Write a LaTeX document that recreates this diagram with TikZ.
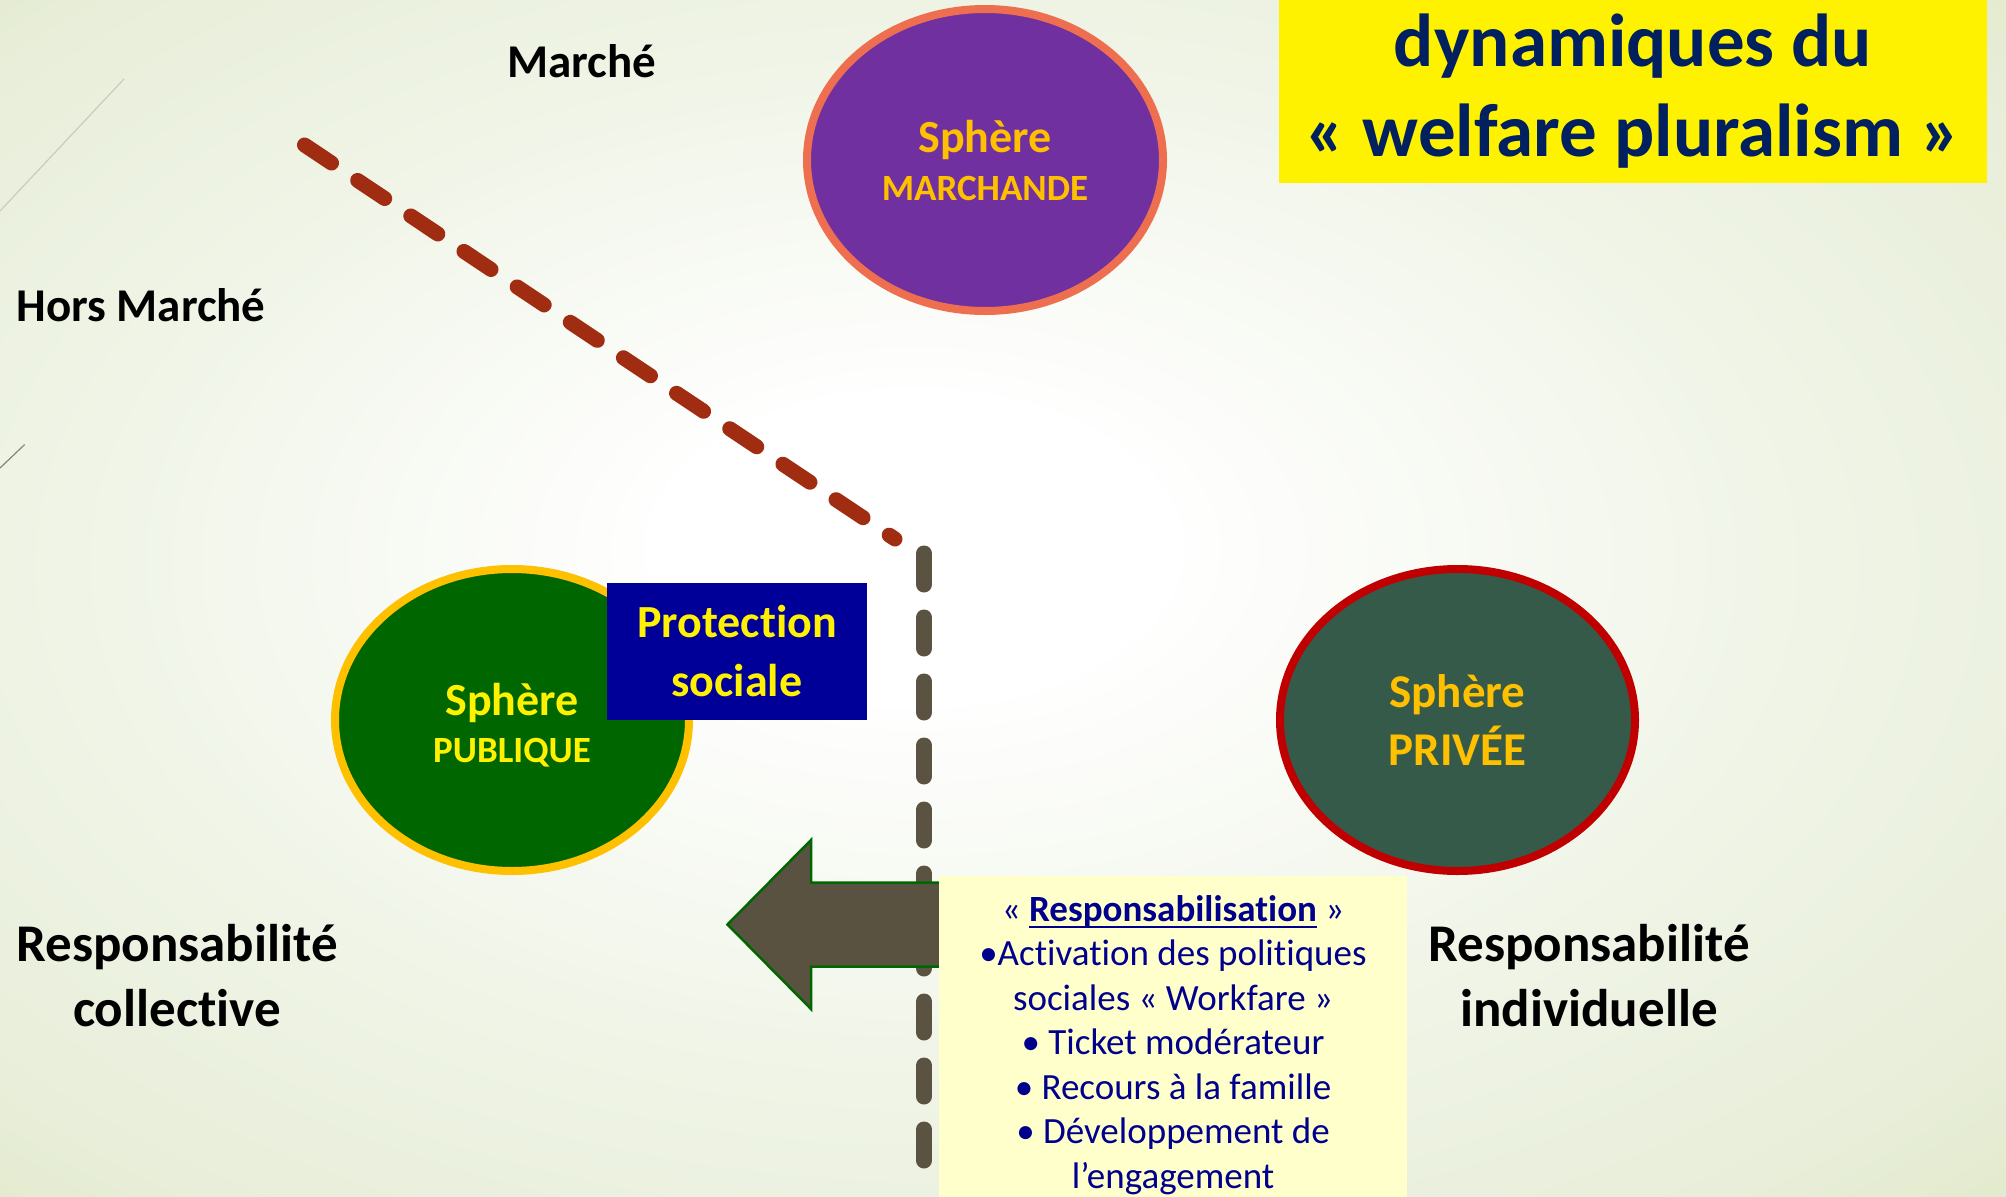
\documentclass[tikz,border=0pt]{standalone}
\usepackage{fontspec}
\setmainfont{Carlito}[RawFeature={-liga}]
\usetikzlibrary{shapes.geometric}
\definecolor{bgmid}{HTML}{EFF4E6}
\definecolor{bgfar}{HTML}{E8EED9}
\definecolor{bgedge}{HTML}{DFE8C6}
\definecolor{purplefill}{HTML}{7030A0}
\definecolor{coral}{HTML}{EE6F4F}
\definecolor{gold}{HTML}{FFC000}
\definecolor{pubgreen}{HTML}{006600}
\definecolor{privfill}{HTML}{355A4A}
\definecolor{privred}{HTML}{C00000}
\definecolor{protblue}{HTML}{000099}
\definecolor{titlenavy}{HTML}{002060}
\definecolor{listfill}{HTML}{FFFFCC}
\definecolor{listtext}{HTML}{00008C}
\definecolor{reddash}{HTML}{A02C12}
\definecolor{graydash}{HTML}{5B5341}
\definecolor{arrowfill}{HTML}{5A5240}
\definecolor{decoA}{HTML}{C9CDB9}
\definecolor{decoB}{HTML}{8A8570}
\pgfdeclareradialshading{bgshade}{\pgfpoint{-2.57bp}{2.44bp}}{color(0bp)=(white); color(6bp)=(white); color(22bp)=(bgmid); color(32bp)=(bgfar); color(39bp)=(bgedge); color(50bp)=(bgedge)}
\newcommand\myul[1]{\setbox0\hbox{#1}\rlap{\rule[-7pt]{\wd0}{2.2pt}}\box0}
\begin{document}
\begin{tikzpicture}[x=1pt,y=-1pt,
  sphere/.style={ellipse, line width=8pt, inner sep=0pt, align=center, minimum height=302pt},
  boldlabel/.style={font=\bfseries\fontsize{47}{55}\selectfont, text=black, inner sep=0pt},
  resplabel/.style={font=\bfseries\fontsize{53}{65}\selectfont, text=black, inner sep=0pt, align=center},
  redsep/.style={draw=reddash, line width=15pt, line cap=round, dash pattern=on 32.5pt off 31.4pt},
  graysep/.style={draw=graydash, line width=16pt, line cap=round, dash pattern=on 31pt off 33pt},
  bigarrow/.style={fill=arrowfill, draw=pubgreen, line width=2.5pt, line join=miter}
]
\useasboundingbox (0,0) rectangle (2006,1197);
\shade[shading=bgshade] (0,0) rectangle (2006,1197);
% decorative theme lines
\draw[decoA, line width=1.2pt] (0,211) -- (124,79);
\draw[decoB, line width=1.2pt] (0,468) -- (24.6,444.6);
% separators
\coordinate (rs) at (304.5,145);
\coordinate (re) at (895,539);
\coordinate (gs) at (924,553.5);
\coordinate (ge) at (924,1160.5);
\draw[redsep] (rs) -- (re);
\draw[graysep] (gs) -- (ge);
% labels
\node[boldlabel, anchor=base] (marche) at (582,77) {Marché};
\node[boldlabel, anchor=base] (horsmarche) at (141,321) {Hors Marché};
% big arrow
\draw[bigarrow] (727.5,924.5) -- (811,840) -- (811,882.5) -- (950,882.5) -- (950,966.5) -- (811,966.5) -- (811,1009) -- cycle;
% list box
\node[fill=listfill, minimum width=468pt, minimum height=329pt, inner sep=0pt] (respbox) at (1173,1040.5) {};
\node[font=\fontsize{37}{44.5}\selectfont, text=listtext, align=center, inner sep=0pt] (resplist) at (1173,1045)
  {«~\myul{\textbf{Responsabilisation}}~»\\
   •Activation des politiques\\
   sociales «~Workfare~»\\
   •~Ticket modérateur\\
   •~Recours à la famille\\
   •~Développement de\\
   l’engagement};
% spheres
\node[sphere, fill=purplefill, draw=coral, text=gold, minimum width=356pt,
      font=\bfseries\fontsize{46}{48}\selectfont] (marchande) at (985,160)
  {Sphère\\{\fontsize{37}{37}\selectfont MARCHANDE}};
\node[sphere, fill=pubgreen, draw=gold, text=yellow, minimum width=354pt,
      font=\bfseries\fontsize{46}{47}\selectfont] (publique) at (512,720)
  {\rule{0pt}{43pt}Sphère\\{\fontsize{37}{37}\selectfont PUBLIQUE}};
\node[sphere, fill=privfill, draw=privred, text=gold, minimum width=355pt,
      font=\bfseries\fontsize{47}{58}\selectfont] (privee) at (1457.5,720)
  {Sphère\\PRIVÉE};
% protection sociale
\node[fill=protblue, text=yellow, minimum width=260pt, minimum height=137pt, inner sep=0pt,
      align=center, font=\bfseries\fontsize{46}{59}\selectfont] (protection) at (737,651.5)
  {Protection\\sociale};
% responsibility labels
\node[resplabel] (collective) at (177,976) {Responsabilité\\collective};
\node[resplabel] (individuelle) at (1589,976) {Responsabilité\\individuelle};
% title
\node[fill=yellow, text=titlenavy, minimum width=708pt, minimum height=183pt, inner sep=0pt,
      align=center, font=\bfseries\fontsize{75}{90}\selectfont] (title) at (1633,91.5)
  {dynamiques du\\«~welfare pluralism~»};
\end{tikzpicture}
\end{document}
